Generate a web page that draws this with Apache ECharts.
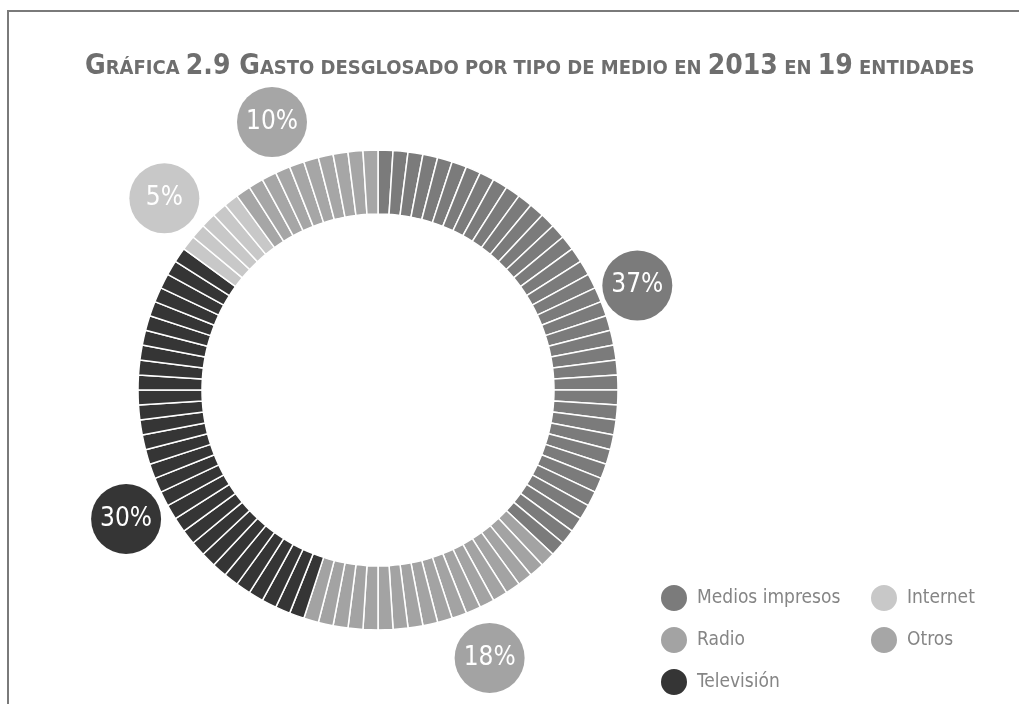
<!DOCTYPE html>
<html>
<head>
<meta charset="utf-8">
<script src="https://cdn.jsdelivr.net/npm/echarts@6/dist/echarts.min.js"></script>
<style>
  html, body { margin: 0; padding: 0; background: #ffffff; }
  #chart { width: 1019px; height: 704px; }
</style>
</head>
<body>
<div id="chart"></div>
<script>
// ---- Data ----
const categories = ['Medios impresos', 'Radio', 'Televisión', 'Internet', 'Otros'];
const percents = [37, 18, 30, 5, 10];
const legendCol1 = ['Medios impresos', 'Radio', 'Televisión'];
const legendCol2 = ['Internet', 'Otros'];

// ---- Styling ----
const colors = ['#7b7b7b', '#a3a3a3', '#353535', '#c8c8c8', '#a6a6a6'];
// small hand placement nudges of the percentage bubbles, as in the original
const bubbleNudge = [[-5, 10], [40, -11], [22, 40], [-10, 12], [-17, 6]];
const FONT = "'DejaVu Sans Condensed', 'Liberation Sans Narrow', sans-serif";

// Each 1% of spending is drawn as one segment of the ring
const segments = [];
categories.forEach((name, i) => {
  for (let k = 0; k < percents[i]; k++) {
    segments.push({ name: name, value: 1, itemStyle: { color: colors[i] } });
  }
});

const bubbleData = categories.map((name, i) => ({
  name: name,
  value: percents[i],
  itemStyle: { color: 'rgba(0,0,0,0)' },
  label: { backgroundColor: colors[i] }
}));

const chart = echarts.init(document.getElementById('chart'), null, { renderer: 'canvas' });

const legendBase = {
  orient: 'vertical',
  top: 583,
  height: 150,
  padding: 0,
  icon: 'circle',
  itemWidth: 28,
  itemHeight: 28,
  itemGap: 12,
  selectedMode: false,
  textStyle: { fontFamily: FONT, fontSize: 19, color: '#858585', padding: [0, 0, 0, 4] }
};

const option = {
  animation: false,
  backgroundColor: '#ffffff',
  title: {
    left: 80,
    top: 44,
    text: '{b|G}{s|RÁFICA }{b|2.9 G}{s|ASTO DESGLOSADO POR TIPO DE MEDIO EN }{b|2013}{s| EN }{b|19}{s| ENTIDADES}',
    textStyle: {
      rich: {
        b: { fontFamily: FONT, fontWeight: 'bold', fontSize: 28, color: '#6e6e6e', verticalAlign: 'bottom', lineHeight: 32 },
        s: { fontFamily: FONT, fontWeight: 'bold', fontSize: 20, color: '#6e6e6e', verticalAlign: 'bottom', lineHeight: 32, padding: [0, 0, 2, 0] }
      }
    }
  },
  legend: [
    Object.assign({}, legendBase, {
      left: 659,
      data: legendCol1.map(n => ({ name: n, itemStyle: { color: colors[categories.indexOf(n)] } }))
    }),
    Object.assign({}, legendBase, {
      left: 869,
      data: legendCol2.map(n => ({ name: n, itemStyle: { color: colors[categories.indexOf(n)] } }))
    })
  ],
  graphic: [
    {
      type: 'polyline',
      silent: true,
      shape: { points: [[8, 704], [8, 11], [1019, 11]] },
      style: { stroke: '#7a7a7a', lineWidth: 2, fill: null }
    }
  ],
  series: [
    {
      type: 'pie',
      name: 'Gasto',
      center: [378, 390],
      radius: [176, 240],
      startAngle: 90,
      clockwise: true,
      silent: true,
      label: { show: false },
      labelLine: { show: false },
      emphasis: { disabled: true },
      itemStyle: { borderColor: '#ffffff', borderWidth: 1.5 },
      data: segments
    },
    {
      type: 'pie',
      name: 'Etiquetas',
      center: [378, 390],
      radius: [255, 315],
      startAngle: 90,
      clockwise: true,
      silent: true,
      emphasis: { disabled: true },
      labelLine: { show: false },
      labelLayout: function (params) {
        const n = bubbleNudge[params.dataIndex] || [0, 0];
        return { dx: n[0], dy: n[1] };
      },
      label: {
        show: true,
        position: 'inside',
        formatter: '{c}%',
        fontFamily: FONT,
        fontSize: 26,
        color: '#ffffff',
        width: 70,
        height: 70,
        lineHeight: 70,
        align: 'center',
        verticalAlign: 'middle',
        borderRadius: 35,
        textBorderWidth: 0
      },
      data: bubbleData
    }
  ]
};

chart.setOption(option);
</script>
</body>
</html>
